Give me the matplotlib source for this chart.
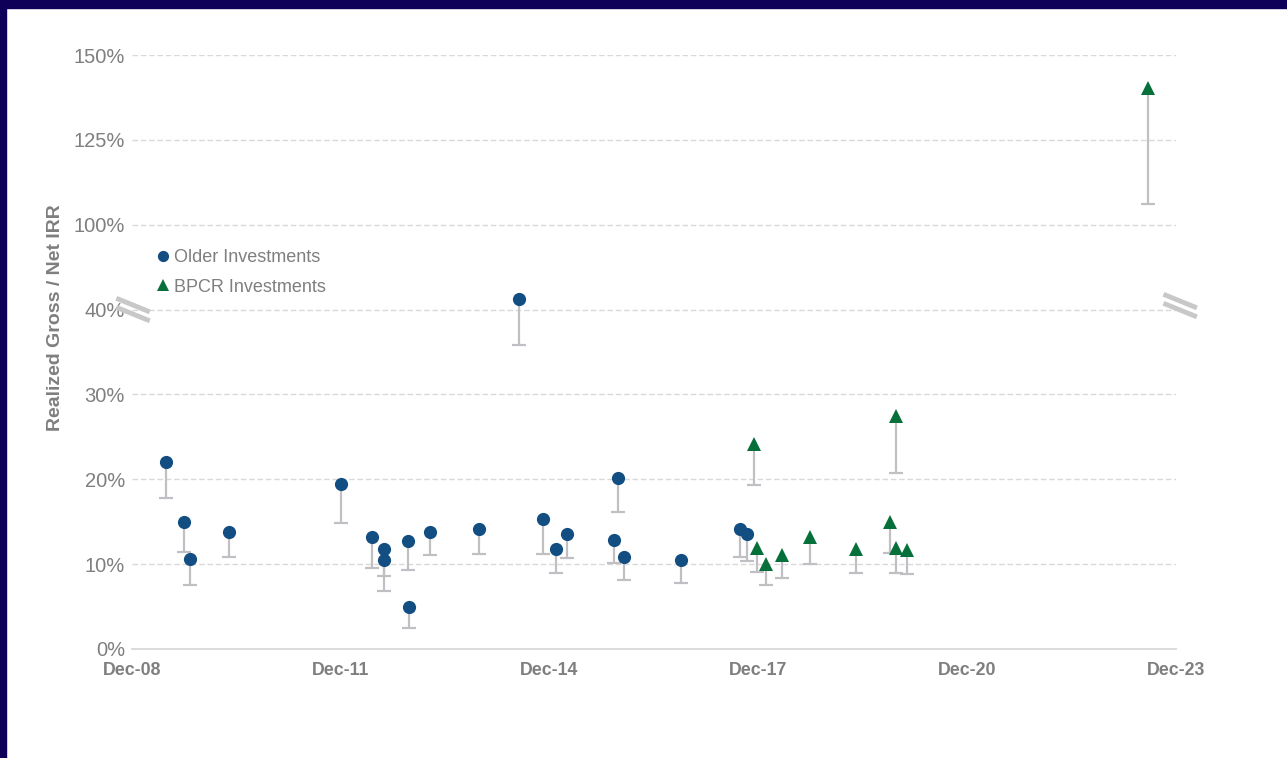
import numpy as np
import pandas as pd
import matplotlib
matplotlib.use('Agg')
import matplotlib.pyplot as plt
import matplotlib.dates as mdates
import matplotlib.ticker as ticker
import matplotlib.transforms as mtransforms
from matplotlib.patches import Rectangle

plt.rcParams['font.family'] = ['Liberation Sans', 'DejaVu Sans']

# Older investments: realized gross IRR (marker) and net IRR (cap)
older_dates = ['2009-05-28', '2009-08-30', '2009-10-01', '2010-04-22', '2011-12-01',
               '2012-05-14', '2012-07-15', '2012-07-15', '2012-11-18', '2012-11-23',
               '2013-03-14', '2013-11-25', '2014-06-24', '2014-10-27', '2015-01-03',
               '2015-03-01', '2015-11-03', '2015-11-24', '2015-12-26', '2016-10-21',
               '2017-08-26', '2017-10-02']
older_gross = [0.220, 0.150, 0.106, 0.138, 0.194,
               0.132, 0.118, 0.105, 0.127, 0.049,
               0.138, 0.141, 0.412, 0.153, 0.118,
               0.136, 0.129, 0.202, 0.108, 0.105,
               0.142, 0.136]
older_net = [0.178, 0.114, 0.076, 0.108, 0.149,
             0.096, 0.086, 0.068, 0.093, 0.025,
             0.111, 0.112, 0.358, 0.112, 0.089,
             0.107, 0.101, 0.161, 0.081, 0.078,
             0.108, 0.104]

# BPCR investments
bpcr_dates = ['2017-11-08', '2017-11-23', '2018-01-10', '2018-04-03', '2018-08-28',
              '2019-04-27', '2019-10-22', '2019-11-22', '2019-11-22', '2020-01-19',
              '2023-07-08']
bpcr_gross = [0.242, 0.119, 0.100, 0.111, 0.132,
              0.118, 0.150, 0.275, 0.119, 0.117,
              1.403]
bpcr_net = [0.193, 0.091, 0.076, 0.084, 0.100,
            0.089, 0.113, 0.207, 0.090, 0.088,
            1.062]

y_ticks = [0, 0.1, 0.2, 0.3, 0.4, 1.0, 1.25, 1.5]
x_ticks = ['2008-12-01', '2011-12-01', '2014-12-01', '2017-12-01', '2020-12-01', '2023-12-01']

older = pd.DataFrame({'date': pd.to_datetime(older_dates), 'gross': older_gross, 'net': older_net})
bpcr = pd.DataFrame({'date': pd.to_datetime(bpcr_dates), 'gross': bpcr_gross, 'net': bpcr_net})

BLUE = '#134e82'
GREEN = '#06703a'
STEM = '#c0c0c4'
GREY = '#7f7f7f'
NAVY = '#0e0058'


# broken y axis: 0-45% linear, squeeze 45-100%, 100%+ at a quarter of the scale
def fwd(v):
    v = np.asarray(v, dtype=float)
    return np.where(v <= 0.45, v * 10,
                    np.where(v < 1.0, 4.5 + (v - 0.45) / 0.55 * 0.5, 5 + (v - 1.0) * 4))


def inv(u):
    u = np.asarray(u, dtype=float)
    return np.where(u <= 4.5, u / 10,
                    np.where(u < 5.0, 0.45 + (u - 4.5) / 0.5 * 0.55, 1.0 + (u - 5.0) / 4))


fig = plt.figure(figsize=(12.87, 7.58), dpi=100)
ax = fig.add_axes([132 / 1287, 1 - 649 / 758, 1044 / 1287, 594 / 758])
ax.set_yscale('function', functions=(fwd, inv))

for df, color, marker, ms, label in [(older, BLUE, 'o', 9.5, 'Older Investments'),
                                      (bpcr, GREEN, '^', 10.5, 'BPCR Investments')]:
    ax.vlines(df['date'], df['net'], df['gross'], colors=STEM, linewidth=1.6, zorder=2)
    ax.plot(df['date'], df['net'], linestyle='none', marker='_', markersize=10,
            markeredgewidth=1.6, color=STEM, zorder=2)
    ax.plot(df['date'], df['gross'], linestyle='none', marker=marker, markersize=ms,
            color=color, markeredgewidth=0, label=label, zorder=3)

ax.set_ylim(0, 1.5)
ax.set_xlim(pd.Timestamp(x_ticks[0]), pd.Timestamp(x_ticks[-1]))
ax.set_yticks(y_ticks)
ax.yaxis.set_major_formatter(ticker.PercentFormatter(1.0, decimals=0))
ax.set_xticks(pd.to_datetime(x_ticks))
ax.xaxis.set_major_formatter(mdates.DateFormatter('Dec-%y'))
ax.yaxis.set_minor_locator(ticker.NullLocator())

ax.grid(True, axis='y', linestyle=(0, (4, 2)), color='#d9d9d9', linewidth=1.0)
ax.set_axisbelow(True)
for side in ['top', 'right', 'left']:
    ax.spines[side].set_visible(False)
ax.spines['bottom'].set_color('#d9d9d9')
ax.spines['bottom'].set_linewidth(1.3)
ax.tick_params(axis='both', length=0)
ax.tick_params(axis='y', labelsize=14.5, labelcolor=GREY, pad=5)
ax.tick_params(axis='x', labelsize=12.8, labelcolor=GREY, pad=9.5)
for lab in ax.get_xticklabels():
    lab.set_fontweight('bold')

fig.text(56 / 1287, 1 - 318 / 758, 'Realized Gross / Net IRR', rotation=90, ha='center', va='center',
         fontsize=14, fontweight='bold', color=GREY)

leg = ax.legend(loc='upper left', bbox_to_anchor=(0.018, 0.685), frameon=False, fontsize=13,
                handlelength=0.6, handletextpad=0.3, labelspacing=0.68, borderaxespad=0,
                markerscale=0.85)
for t in leg.get_texts():
    t.set_color(GREY)

# break marks at 40%
for xa, dy in [(0.001, 0.0), (1.004, 4.0)]:
    base = mtransforms.blended_transform_factory(ax.transAxes, ax.transData)
    for off in (-4.5, 4.5):
        tr = base + mtransforms.ScaledTranslation(0, (off + dy) / 100, fig.dpi_scale_trans)
        ax.plot([xa - 0.016, xa + 0.016], [0.4 + 0.008, 0.4 - 0.008], transform=tr,
                color='#c8c8c8', linewidth=3.5, clip_on=False, solid_capstyle='butt', zorder=4)

# frame strips
fig.patches.append(Rectangle((0, 1 - 8 / 758), 1, 8 / 758, transform=fig.transFigure, color=NAVY))
fig.patches.append(Rectangle((0, 0), 6 / 1287, 1, transform=fig.transFigure, color=NAVY))

fig.savefig('out.png', dpi=100)
